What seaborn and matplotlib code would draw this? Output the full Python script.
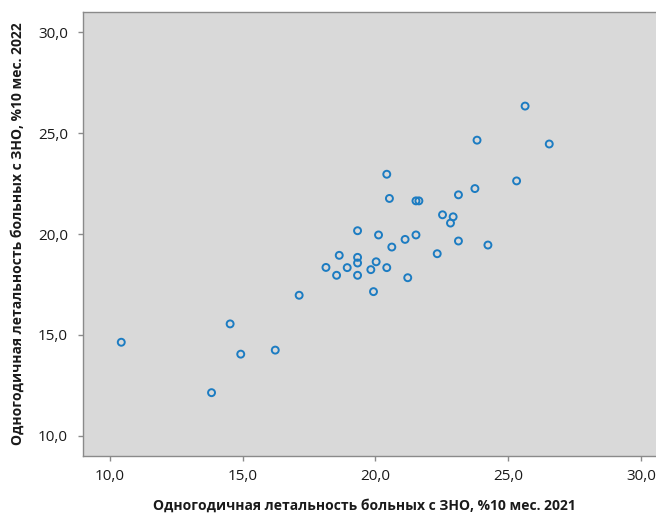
import matplotlib
matplotlib.use("Agg")
import matplotlib.pyplot as plt
import matplotlib.ticker as mticker
import seaborn as sns
import pandas as pd

# Data
x_2021 = [25.64, 23.83, 26.55, 20.43, 25.32, 23.75, 23.13, 20.53, 21.53, 21.64,
          22.53, 22.93, 22.83, 19.33, 20.12, 21.53, 21.12, 23.13, 24.24, 20.62,
          22.33, 18.64, 19.33, 19.33, 20.03, 18.14, 18.94, 20.43, 19.83, 18.54,
          19.33, 21.22, 19.93, 17.13, 14.53, 10.43, 14.93, 16.23, 13.83]
y_2022 = [26.35, 24.66, 24.47, 22.97, 22.64, 22.26, 21.95, 21.77, 21.65, 21.65,
          20.96, 20.86, 20.55, 20.17, 19.96, 19.96, 19.74, 19.66, 19.46, 19.36,
          19.03, 18.95, 18.85, 18.57, 18.63, 18.35, 18.34, 18.34, 18.24, 17.96,
          17.96, 17.84, 17.15, 16.97, 15.55, 14.64, 14.05, 14.25, 12.14]
tick_values = [10, 15, 20, 25, 30]
x_label = "Одногодичная летальность больных с ЗНО, %10 мес. 2021"
y_label = "Одногодичная летальность больных с ЗНО, %10 мес. 2022"

df = pd.DataFrame({"x": x_2021, "y": y_2022})

sns.set_style("white")
plt.rcParams["font.family"] = ["Open Sans", "DejaVu Sans"]

W, H = 656, 514
fig = plt.figure(figsize=(W / 100, H / 100), dpi=100)
left_px, top_px, bottom_px = 83.3, 12.3, 456.0
xmin, xmax, ymin, ymax = 9, 31, 9, 31
px_per_unit_x = 26.55
width_px = (xmax - xmin) * px_per_unit_x
ax = fig.add_axes([left_px / W, (H - bottom_px) / H, width_px / W, (bottom_px - top_px) / H])
ax.set_facecolor("#d9d9d9")

sns.scatterplot(data=df, x="x", y="y", ax=ax, marker="o", s=25,
                facecolors="none", edgecolor="#1c7cc2", linewidth=1.4, zorder=3)

ax.set_xlim(xmin, xmax)
ax.set_ylim(ymin, ymax)
ax.set_xticks(tick_values)
ax.set_yticks(tick_values)
fmt = mticker.FuncFormatter(lambda v, p: f"{v:.1f}".replace(".", ","))
ax.xaxis.set_major_formatter(fmt)
ax.yaxis.set_major_formatter(fmt)

spine_c = "#8a8a8a"
for s in ax.spines.values():
    s.set_color(spine_c)
    s.set_linewidth(1.0)
ax.tick_params(axis="both", direction="out", length=3.6, width=1.0, color=spine_c,
               labelsize=11, labelcolor="#1a1a1a")
ax.tick_params(axis="y", pad=7.5, left=True)
ax.tick_params(axis="x", pad=6, bottom=True)

ax.set_xlabel("")
ax.set_ylabel("")
fig.text(364 / W, 1 - 506 / H, x_label, ha="center", va="center",
         fontsize=10, fontweight="bold", color="#1a1a1a")
fig.text(18 / W, 1 - 234 / H, y_label, ha="center", va="center", rotation=90,
         fontsize=10, fontweight="bold", color="#1a1a1a")

fig.savefig("out.png", dpi=100)
